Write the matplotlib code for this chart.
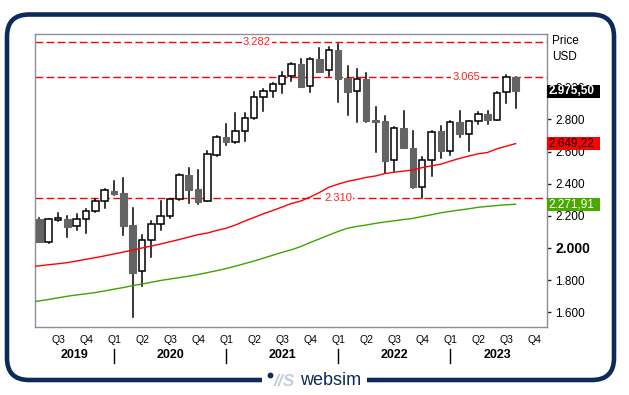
import matplotlib
matplotlib.use("Agg")
import matplotlib.pyplot as plt
import matplotlib.transforms as mtransforms
from matplotlib.patches import Rectangle, FancyBboxPatch
import numpy as np

plt.rcParams['font.family'] = ['Liberation Sans', 'DejaVu Sans']

# monthly candles May 2019 .. Aug 2023
opens = [2180, 2039, 2172, 2180, 2137, 2178, 2228, 2290, 2355, 2342,
         2143, 1855, 2048, 2149, 2197, 2303, 2454, 2367, 2292, 2577,
         2689, 2657, 2728, 2807, 2937, 2975, 3018, 3070, 3144, 3006,
         3176, 3105, 3232, 3059, 2978, 3049, 2796, 2790, 2547, 2745,
         2620, 2378, 2547, 2728, 2601, 2784, 2709, 2788, 2833, 2798,
         2968, 3062]
highs = [2188, 2183, 2220, 2199, 2211, 2244, 2307, 2367, 2417, 2435,
         2247, 2081, 2168, 2292, 2305, 2462, 2498, 2485, 2603, 2697,
         2771, 2842, 2842, 2968, 2991, 3028, 3095, 3153, 3176, 3182,
         3242, 3252, 3270, 3132, 3111, 3087, 2875, 2821, 2754, 2852,
         2728, 2564, 2730, 2759, 2792, 2852, 2790, 2846, 2854, 2972,
         3073, 3065]
lows = [2035, 2033, 2168, 2070, 2112, 2095, 2225, 2247, 2330, 2083,
        1573, 1764, 1946, 2112, 2188, 2299, 2278, 2272, 2290, 2575,
        2643, 2652, 2667, 2805, 2854, 2941, 2962, 3041, 3000, 2972,
        3095, 3070, 2910, 2825, 2786, 2786, 2599, 2465, 2479, 2620,
        2376, 2310, 2448, 2562, 2578, 2692, 2605, 2769, 2769, 2795,
        2904, 2873]
closes = [2039, 2180, 2185, 2132, 2178, 2228, 2290, 2359, 2338, 2139,
          1846, 2050, 2149, 2197, 2303, 2454, 2363, 2288, 2583, 2689,
          2657, 2728, 2807, 2937, 2975, 3018, 3070, 3143, 3003, 3174,
          3097, 3230, 3053, 2972, 3049, 2792, 2786, 2543, 2746, 2624,
          2378, 2547, 2722, 2601, 2784, 2711, 2788, 2832, 2798, 2962,
          3062, 2975.5]

# moving averages as drawn (first value is the month before candle 0)
ma_red = [1884, 1889, 1896, 1902, 1909, 1919, 1930, 1940, 1951, 1963,
          1975, 1987, 2000, 2012, 2025, 2039, 2053, 2068, 2083, 2093,
          2109, 2123, 2143, 2168, 2190, 2213, 2233, 2255, 2277, 2292,
          2317, 2345, 2378, 2397, 2414, 2426, 2439, 2448, 2463, 2471,
          2478, 2485, 2500, 2511, 2521, 2540, 2557, 2572, 2586, 2594,
          2617, 2633, 2649.22]
ma_green = [1662, 1671, 1680, 1690, 1700, 1708, 1715, 1723, 1733, 1744,
            1754, 1766, 1776, 1787, 1798, 1807, 1816, 1825, 1835, 1847,
            1859, 1872, 1887, 1903, 1919, 1937, 1955, 1973, 1989, 2009,
            2034, 2057, 2080, 2103, 2123, 2134, 2143, 2153, 2162, 2169,
            2177, 2184, 2196, 2207, 2219, 2228, 2236, 2244, 2253, 2259,
            2264, 2269, 2271.91]

levels = [3282, 3065, 2310]
level_label_x = [23.3, 45.7, 32.0]

quarters = ['Q3', 'Q4'] + ['Q1', 'Q2', 'Q3', 'Q4'] * 4
years = ['2019', '2020', '2021', '2022', '2023']
year_x = [3.75, 14, 26, 38, 49.1]
yticks = [1600, 1800, 2000, 2200, 2400, 2600, 2800, 3000]

navy = '#0c2b5b'
gray_body = '#646464'
spine_col = '#8e8e9e'

fig = plt.figure(figsize=(6.29, 3.95), dpi=100)
fig.patch.set_facecolor('white')

# outer rounded frame + logo
bg = fig.add_axes([0, 0, 1, 1], zorder=-1)
bg.set_xlim(0, 629)
bg.set_ylim(395, 0)
bg.axis('off')
bg.add_patch(FancyBboxPatch((7, 14.5), 607, 365.5,
                            boxstyle='round,pad=0,rounding_size=22',
                            fc='none', ec=navy, lw=3.3))
bg.add_patch(Rectangle((262, 372), 105, 14, fc='white', ec='none', zorder=3))
bg.plot([270], [374.5], 'o', ms=3.2, color=navy, zorder=4)
bg.text(284, 381, '//S', color='#c3cddb', fontsize=12.5, fontweight='bold',
        style='italic', ha='center', va='center', zorder=4)
bg.text(331, 380.5, 'websim', color=navy, fontsize=13, ha='center',
        va='center', zorder=4)

ax = fig.add_axes([35.3 / 629, 1 - 326.7 / 395, 511.4 / 629, 292.4 / 395])
ax.set_xlim(-0.43, 54.33)
ax.set_ylim(1510.5, 3329)
for sp in ax.spines.values():
    sp.set_color(spine_col)
    sp.set_linewidth(1)

# candles
n = len(closes)
w = 0.7
for i in range(n):
    o, h, l, c = opens[i], highs[i], lows[i], closes[i]
    ax.plot([i, i], [l, h], color='black', lw=1.1, zorder=2)
    if c >= o:
        ax.add_patch(Rectangle((i - w / 2, o), w, c - o, fc='white',
                               ec='black', lw=1.1, zorder=3))
    else:
        ax.add_patch(Rectangle((i - w / 2, c), w, o - c, fc=gray_body,
                               ec=gray_body, lw=0.8, zorder=3))

# moving averages
ma_x = np.arange(-1, n)
ax.plot(ma_x, ma_red, color='#ff0000', lw=1.0, zorder=4)
ax.plot(ma_x, ma_green, color='#3fa300', lw=1.0, zorder=4)

# dashed levels
for lv, lx in zip(levels, level_label_x):
    ax.axhline(lv, color='#ff0000', lw=1.0, dashes=(5.5, 2.5), zorder=1)
    ax.text(lx, lv, f"{lv:,}".replace(',', '.'), color='#ff2020', fontsize=8,
            ha='center', va='center', zorder=5,
            bbox=dict(fc='white', ec='none', pad=0.8))

# right price axis
ax.yaxis.tick_right()
ax.set_yticks(yticks, labels=[f"{v:,}".replace(',', '.') for v in yticks])
ax.tick_params(axis='y', length=3, width=1, color='#222222', pad=3,
               labelsize=8.5)
for lab in ax.get_yticklabels():
    if lab.get_text() == '2.000':
        lab.set_fontweight('bold')
        lab.set_fontsize(10)
ax.set_xticks([])

ax.text(1.0104, 0.977, 'Price', transform=ax.transAxes, fontsize=8.5,
        ha='left', va='center')
ax.text(1.0104, 0.922, 'USD', transform=ax.transAxes, fontsize=8.5,
        ha='left', va='center')

# last value boxes
btr = mtransforms.blended_transform_factory(ax.transAxes, ax.transData)
boxes = [(closes[-1], 'black', 'white', 'bold'),
         (ma_red[-1], '#ff0000', 'black', 'normal'),
         (ma_green[-1], '#4aa800', 'white', 'normal')]
bh = 80
for val, fc, tc, fw in boxes:
    ax.add_patch(Rectangle((1.0, val - bh / 2), 0.1036, bh, transform=btr,
                           fc=fc, ec='none', clip_on=False, zorder=6))
    txt = f"{val:,.2f}".replace(',', ' ').replace('.', ',').replace(' ', '.')
    ax.text(1.004, val, txt, transform=btr, color=tc, fontweight=fw,
            fontsize=8.5, ha='left', va='center', zorder=7, clip_on=False)

# time axis: quarter labels sit on the first month of each quarter
xtr = mtransforms.blended_transform_factory(ax.transData, ax.transAxes)
q_pos = 2 + 3 * np.arange(len(quarters))
for qp, q in zip(q_pos, quarters):
    ax.text(qp, -0.045, q, transform=xtr, fontsize=7.5, ha='center',
            va='center', clip_on=False)
for yx, yr in zip(year_x, years):
    ax.text(yx, -0.097, yr, transform=xtr, fontsize=9, fontweight='bold',
            ha='center', va='center', clip_on=False)
for k in range(2, len(quarters), 4):
    ax.plot([q_pos[k], q_pos[k]], [-0.075, -0.125], transform=xtr,
            color='black', lw=1, clip_on=False)

fig.savefig('out.png', dpi=100, facecolor='white')
